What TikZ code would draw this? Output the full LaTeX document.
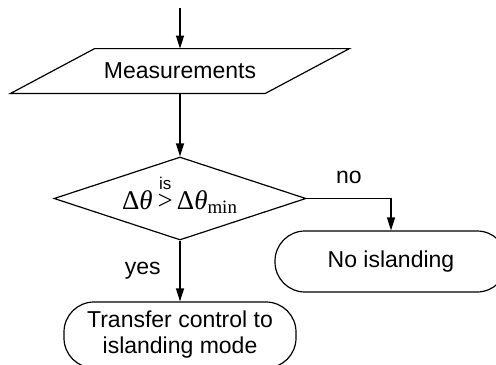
\documentclass[tikz,border=0pt]{standalone}
\usepackage{fontspec}
\setmainfont{Liberation Sans}
\newfontfamily\tnr{Liberation Serif}
\usetikzlibrary{shapes.geometric,arrows.meta}

\tikzset{
  box/.style={draw, line width=0.6pt, align=center, inner sep=0pt},
  iobox/.style={align=center, inner sep=0pt, minimum width=85pt, minimum height=22pt},
  decbox/.style={box, diamond, minimum width=126pt, minimum height=41.5pt},
  endbox/.style={box, rectangle, rounded corners=15pt, minimum width=116pt},
  flow/.style={line width=0.6pt, -{Triangle[width=4pt,length=6.5pt]}},
}

\begin{document}
\begin{tikzpicture}[x=0.5pt, y=-0.5pt, font=\fontsize{11.5}{13}\selectfont]
  \useasboundingbox (0,0) rectangle (496,364);
  \coordinate (in) at (180,8);
  \node[iobox] (meas) at (180,71) {Measurements};
  \draw[line width=0.6pt] ([xshift=-42pt]meas.south west) -- (meas.south east)
    -- ([xshift=42pt]meas.north east) -- (meas.north west) -- cycle;
  \node[decbox] (dec) at (180,198.5)
    {\makebox[0pt]{\smash{\raisebox{-5.5pt}{\fontsize{13.5}{13}\selectfont\tnr Δ\textit{θ}\hspace{2.5pt}\shortstack{{\fontsize{8.5}{8}\selectfont\rmfamily is}\\[-1pt]>}\hspace{2pt}Δ\textit{θ}\textsubscript{min}}}}};
  \node[endbox, minimum height=30.5pt] (noisl) at (391,261.5) {No islanding};
  \node[endbox, minimum height=33pt] (xfer) at (180,335) {Transfer control to\\islanding mode};
  \draw[flow] (in) -- (meas.north);
  \draw[flow] (meas.south) -- (dec.north);
  \draw[flow] (dec.east) -| node[pos=0.25, above=4pt] {no} (noisl.north);
  \draw[flow] (dec.south) -- node[left=6pt] {yes} (xfer.north);
\end{tikzpicture}
\end{document}
